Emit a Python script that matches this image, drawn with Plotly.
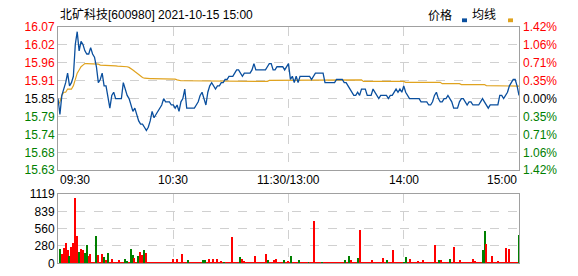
import plotly.graph_objects as go

# ---------------- data ----------------
time_labels = ["09:30", "10:30", "11:30/13:00", "14:00", "15:00"]
time_label_pos = [0, 60, 120, 180, 240]

price = [
    15.85, 15.80, 15.86, 15.88, 15.90, 15.93, 15.89, 15.90, 15.92, 16.02,
    16.06, 16.00, 16.03, 16.02, 16.00, 15.99, 15.99, 16.01, 15.99, 15.98,
    15.95, 15.90, 15.91, 15.93, 15.89, 15.89, 15.86, 15.82, 15.86, 15.87,
    15.85, 15.85, 15.85, 15.85, 15.90, 15.88, 15.86, 15.85, 15.83, 15.81,
    15.82, 15.80, 15.78, 15.77, 15.77, 15.76, 15.75, 15.76, 15.78, 15.81,
    15.79, 15.80, 15.81, 15.82, 15.83, 15.85, 15.84, 15.84, 15.84, 15.83,
    15.83, 15.82, 15.83, 15.81, 15.84, 15.85, 15.88, 15.82, 15.82, 15.82,
    15.82, 15.82, 15.83, 15.84, 15.86, 15.87, 15.85, 15.83, 15.87, 15.89,
    15.90, 15.89, 15.88, 15.89, 15.89, 15.90, 15.90, 15.91, 15.91, 15.92,
    15.92, 15.92, 15.93, 15.94, 15.94, 15.93, 15.92, 15.93, 15.93, 15.93,
    15.93, 15.94, 15.96, 15.94, 15.94, 15.94, 15.94, 15.94, 15.94, 15.95,
    15.96, 15.96, 15.94, 15.94, 15.95, 15.95, 15.95, 15.95, 15.94, 15.95,
    15.96,
    15.91, 15.92, 15.90, 15.92, 15.90, 15.92, 15.92, 15.92, 15.92, 15.92,
    15.92, 15.91, 15.92, 15.93, 15.93, 15.93, 15.93, 15.93, 15.90, 15.90,
    15.90, 15.90, 15.90, 15.90, 15.91, 15.91, 15.91, 15.91, 15.90, 15.90,
    15.89, 15.88, 15.87, 15.86, 15.86, 15.87, 15.86, 15.88, 15.88, 15.88,
    15.86, 15.86, 15.86, 15.88, 15.87, 15.86, 15.85, 15.86, 15.86, 15.86,
    15.86, 15.85, 15.86, 15.86, 15.87, 15.88, 15.87, 15.88, 15.87, 15.89,
    15.87, 15.86, 15.85, 15.85, 15.85, 15.85, 15.85, 15.85, 15.84, 15.84,
    15.84, 15.84, 15.83, 15.83, 15.84, 15.86, 15.87, 15.85, 15.84, 15.84,
    15.85, 15.85, 15.86, 15.85, 15.84, 15.82, 15.82, 15.82, 15.84, 15.85,
    15.85, 15.84, 15.83, 15.84, 15.84, 15.83, 15.83, 15.83, 15.83, 15.84,
    15.85, 15.84, 15.83, 15.82, 15.83, 15.83, 15.83, 15.83, 15.83, 15.86,
    15.86, 15.85, 15.86, 15.87, 15.89, 15.90, 15.91, 15.91, 15.89, 15.86,
]

avg_price = [
    15.830, 15.840, 15.860, 15.870, 15.870, 15.880, 15.880, 15.880, 15.890, 15.910,
    15.930, 15.940, 15.950, 15.955, 15.960, 15.960, 15.960, 15.960, 15.960, 15.960,
    15.960, 15.958, 15.955, 15.955, 15.955, 15.955, 15.953, 15.953, 15.953, 15.953,
    15.953, 15.952, 15.952, 15.952, 15.950, 15.950, 15.950, 15.948, 15.945, 15.940,
    15.935, 15.930, 15.925, 15.920, 15.916, 15.914, 15.913, 15.913, 15.913, 15.913,
    15.913, 15.913, 15.913, 15.913, 15.913, 15.913, 15.913, 15.913, 15.911, 15.911,
    15.911, 15.911, 15.909, 15.907, 15.906, 15.906, 15.906, 15.905, 15.905, 15.904,
    15.904, 15.904, 15.904, 15.904, 15.904, 15.904, 15.904, 15.904, 15.904, 15.904,
    15.904, 15.904, 15.904, 15.904, 15.904, 15.904, 15.904, 15.904, 15.904, 15.904,
    15.904, 15.904, 15.904, 15.904, 15.904, 15.904, 15.904, 15.904, 15.904, 15.904,
    15.904, 15.904, 15.904, 15.904, 15.904, 15.904, 15.904, 15.904, 15.904, 15.904,
    15.907, 15.907, 15.907, 15.907, 15.907, 15.907, 15.907, 15.907, 15.907, 15.907,
    15.907,
    15.909, 15.909, 15.909, 15.909, 15.909, 15.909, 15.909, 15.909, 15.909, 15.909,
    15.909, 15.909, 15.909, 15.909, 15.909, 15.909, 15.909, 15.909, 15.909, 15.909,
    15.909, 15.909, 15.909, 15.909, 15.909, 15.909, 15.909, 15.909, 15.909, 15.909,
    15.909, 15.909, 15.909, 15.909, 15.909, 15.909, 15.909, 15.909, 15.904, 15.904,
    15.904, 15.904, 15.904, 15.904, 15.904, 15.904, 15.904, 15.904, 15.904, 15.904,
    15.904, 15.904, 15.904, 15.904, 15.904, 15.904, 15.904, 15.904, 15.904, 15.904,
    15.901, 15.901, 15.901, 15.901, 15.901, 15.901, 15.901, 15.901, 15.901, 15.901,
    15.901, 15.901, 15.901, 15.901, 15.901, 15.901, 15.901, 15.901, 15.901, 15.897,
    15.897, 15.897, 15.897, 15.897, 15.897, 15.897, 15.897, 15.897, 15.897, 15.894,
    15.894, 15.894, 15.894, 15.894, 15.894, 15.894, 15.894, 15.894, 15.894, 15.894,
    15.894, 15.894, 15.891, 15.891, 15.891, 15.891, 15.891, 15.889, 15.889, 15.889,
    15.889, 15.889, 15.889, 15.889, 15.889, 15.889, 15.889, 15.889, 15.889, 15.889,
]

volume = [
    230, 153, 245, 322, 215, 123, 261, 322, 1048, 445,
    189, 230, 215, 169, 291, 123, 153, 15, 15, 434,
    138, 20, 153, 100, 51, 164, 20, 77, 20, 20,
    20, 46, 20, 15, 77, 41, 15, 230, 138, 92,
    15, 112, 189, 138, 215, 169, 15, 15, 15, 15,
    15, 15, 15, 15, 15, 15, 15, 15, 15, 77,
    15, 77, 15, 15, 153, 15, 15, 61, 15, 26,
    15, 15, 15, 15, 15, 51, 61, 15, 77, 15,
    66, 15, 72, 15, 41, 15, 26, 15, 15, 15,
    419, 15, 15, 15, 107, 66, 41, 15, 15, 15,
    15, 15, 123, 15, 15, 15, 15, 15, 158, 61,
    15, 15, 61, 66, 15, 15, 15, 61, 15, 36,
    15, 123, 15, 15, 15, 46, 15, 15, 15, 15,
    15, 15, 15, 690, 15, 15, 15, 15, 15, 15,
    15, 15, 15, 15, 15, 15, 15, 26, 15, 61,
    15, 123, 61, 15, 15, 15, 92, 537, 15, 15,
    15, 15, 15, 51, 15, 15, 15, 15, 15, 92,
    15, 61, 15, 15, 215, 15, 15, 15, 15, 15,
    26, 107, 15, 77, 15, 15, 15, 41, 15, 15,
    61, 15, 15, 15, 15, 15, 291, 15, 61, 46,
    15, 15, 15, 15, 77, 15, 261, 15, 15, 61,
    15, 15, 15, 15, 15, 15, 77, 36, 15, 15,
    15, 215, 521, 307, 15, 15, 123, 15, 15, 31,
    15, 15, 15, 245, 15, 230, 15, 15, 15, 15,
    460,
]

# direction of each minute bar: u = up (red), d = down (green)
direction_rows = [
    "duuuuduuuu", "duudduuuud", "uuududuuuu", "uuuudduddu",
    "uduuduuuuu", "uuuuuuuuuu", "uuuuuuuduu", "uuuuudduuu",
    "uuuuuuduuu", "uuuuduuuuu", "uuuuuuuuud", "uuuuuuuduu",
    "uduuuduuuu", "duuuuuuduu", "uuuuuuuuud", "uduuuuduuu",
    "uuuuuuuuuu", "uduuuuuuuu", "dduuuuuuuu", "uuuuuuuudu",
    "uuuuduuuuu", "uuuuuuuuuu", "udduuuuuuu", "uuuuuuuuuu",
    "d",
]

price_ticks = [15.625, 15.68125, 15.7375, 15.79375, 15.85, 15.90625, 15.9625, 16.01875, 16.075]
price_tick_text = ["15.63", "15.68", "15.74", "15.79", "15.85", "15.91", "15.96", "16.02", "16.07"]
pct_tick_text = ["1.42%", "1.06%", "0.71%", "0.35%", "0.00%", "0.35%", "0.71%", "1.06%", "1.42%"]
vol_ticks = [0, 280, 560, 839, 1119]
vol_tick_text = ["0", "280", "560", "839", "1119"]

title_text = "北矿科技[600980] 2021-10-15 15:00"
legend_names = ["价格", "均线"]

# ---------------- style / layout ----------------
W, H = 578, 276
L, R = 58, 519
PT, PB = 21, 172
VT, VB = 197, 270
BLUE = "#0a4f9e"
ORANGE = "#e0a31f"
RED = "#ff0000"
GREEN = "#008000"
BORDER = "#a0a0a0"
GRID = "#d0d0d0"
FONT = "Liberation Sans, Arial, Noto Sans CJK SC, sans-serif"

minutes = list(range(len(price)))
direction = list("".join(direction_rows))


def colored(labels):
    out = []
    n = len(labels)
    for i, t in enumerate(labels):
        if i < n // 2:
            c = GREEN
        elif i == n // 2:
            c = "#000000"
        else:
            c = RED
        out.append('<span style="color:%s">%s</span>' % (c, t))
    return out


bar_colors = [RED if d == "u" else GREEN for d in direction]

fig = go.Figure()
fig.add_trace(go.Scatter(x=minutes, y=avg_price, mode="lines",
                         line=dict(color=ORANGE, width=1.2),
                         xaxis="x", yaxis="y", hoverinfo="skip"))
fig.add_trace(go.Scatter(x=minutes, y=price, mode="lines",
                         line=dict(color=BLUE, width=1.3),
                         xaxis="x", yaxis="y", hoverinfo="skip"))
fig.add_trace(go.Bar(x=minutes, y=volume, marker=dict(color=bar_colors, line=dict(width=0)),
                     width=0.55, xaxis="x2", yaxis="y3", hoverinfo="skip"))
# invisible trace to activate the right-hand percentage axis
fig.add_trace(go.Scatter(x=[0], y=[15.85], mode="markers", marker=dict(opacity=0),
                         xaxis="x", yaxis="y2", hoverinfo="skip"))

xdom = [L / W, R / W]
grid_common = dict(showgrid=True, gridcolor=GRID, griddash="dash", gridwidth=1,
                   showline=True, linecolor=BORDER, linewidth=1, mirror=True,
                   zeroline=False, ticks="", fixedrange=True)

fig.update_layout(
    width=W, height=H,
    margin=dict(l=0, r=0, t=0, b=0),
    paper_bgcolor="white", plot_bgcolor="white",
    showlegend=False,
    font=dict(family=FONT, size=12, color="#000000"),
    bargap=0,
    xaxis=dict(domain=xdom, range=[0, 240], anchor="y", tickvals=[60, 120, 180],
               showticklabels=False, **grid_common),
    yaxis=dict(domain=[1 - PB / H, 1 - PT / H], range=[15.625, 16.075], anchor="x",
               tickvals=price_ticks, ticktext=colored(price_tick_text),
               tickfont=dict(size=12), ticklabelstandoff=0, **grid_common),
    yaxis2=dict(overlaying="y", side="right", anchor="x", range=[15.625, 16.075],
                tickvals=price_ticks, ticktext=colored(pct_tick_text),
                tickfont=dict(size=12), showgrid=False, zeroline=False, ticks="",
                showline=False, ticklabelstandoff=3, fixedrange=True),
    xaxis2=dict(domain=xdom, range=[-1, 240], anchor="y3",
                tickvals=[59.25, 119.5, 179.75], showticklabels=False, **grid_common),
    yaxis3=dict(domain=[1 - VB / H, 1 - VT / H], range=[0, 1119], anchor="x2",
                tickvals=vol_ticks, ticktext=vol_tick_text,
                tickfont=dict(size=12), ticklabelstandoff=0, **grid_common),
)

annotations = []
anchors = ["left", "center", "center", "center", "right"]
for lab, pos, anc in zip(time_labels, time_label_pos, anchors):
    annotations.append(dict(text=lab, x=pos, xref="x", y=1 - 182.5 / H, yref="paper",
                            xanchor=anc, yanchor="middle", showarrow=False,
                            font=dict(size=12, color="#000000")))
annotations.append(dict(text=title_text, x=L / W, xref="paper", y=1 - 8.5 / H, yref="paper",
                        xanchor="left", yanchor="middle", showarrow=False,
                        font=dict(size=12, color="#000000")))
annotations.append(dict(text=legend_names[0], x=454 / W, xref="paper", y=1 - 8.5 / H, yref="paper",
                        xanchor="right", yanchor="middle", showarrow=False,
                        font=dict(size=12, color="#000000")))
annotations.append(dict(text=legend_names[1], x=498 / W, xref="paper", y=1 - 8.5 / H, yref="paper",
                        xanchor="right", yanchor="middle", showarrow=False,
                        font=dict(size=12, color="#000000")))
fig.update_layout(annotations=annotations)

shapes = [
    dict(type="rect", xref="paper", yref="paper", x0=462 / W, x1=467 / W,
         y0=1 - 16 / H, y1=1 - 12 / H, fillcolor=BLUE, line=dict(width=0)),
    dict(type="rect", xref="paper", yref="paper", x0=508 / W, x1=513 / W,
         y0=1 - 16 / H, y1=1 - 12 / H, fillcolor=ORANGE, line=dict(width=0)),
]
fig.update_layout(shapes=shapes)

fig.write_html("out.html", config={"displayModeBar": False})
